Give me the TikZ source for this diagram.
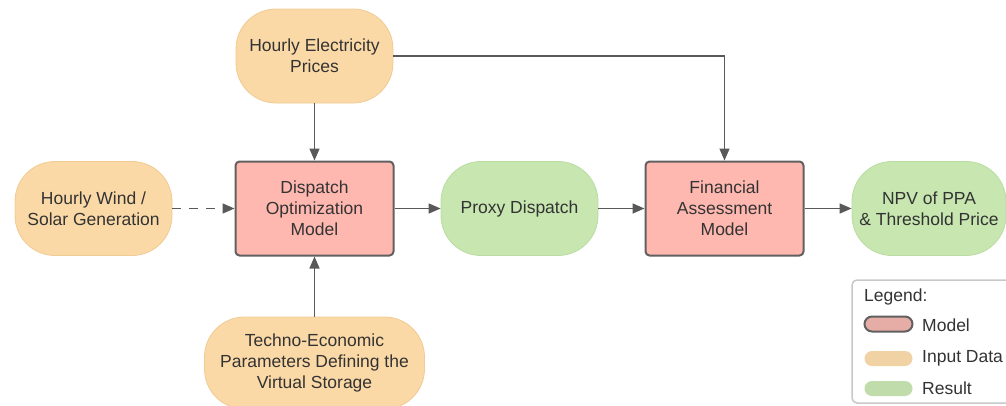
\documentclass[tikz,border=0pt]{standalone}
\usepackage{fontspec}
\setmainfont{Liberation Sans}
\usepackage{tikz}
\usetikzlibrary{arrows.meta}
\definecolor{InputFill}{HTML}{FBD9A7}
\definecolor{InputLine}{HTML}{F0CB93}
\definecolor{ModelFill}{HTML}{FFB8B0}
\definecolor{ModelLine}{HTML}{606060}
\definecolor{ResultFill}{HTML}{C7E6B0}
\definecolor{ResultLine}{HTML}{BADCA3}
\definecolor{ArrowGray}{HTML}{595959}
\definecolor{TextGray}{HTML}{333333}
\definecolor{LegendLine}{HTML}{C8C8C8}
\tikzset{data shape/.style={draw=InputLine, fill=InputFill, line width=0.8pt, rounded corners=40pt, inner sep=0pt, minimum height=94pt, minimum width=157pt, align=center, text=TextGray}}
\tikzset{model box/.style={draw=ModelLine, fill=ModelFill, line width=2pt, rounded corners=4pt, inner sep=0pt, minimum height=94pt, minimum width=158pt, align=center, text=TextGray}}
\tikzset{result shape/.style={draw=ResultLine, fill=ResultFill, line width=0.8pt, rounded corners=40pt, inner sep=0pt, minimum height=94pt, minimum width=157pt, align=center, text=TextGray}}
\tikzset{flow arrow/.style={draw=ArrowGray, line width=1.5pt, -{Triangle[length=12pt,width=10pt]}}}
\tikzset{legend swatch/.style={inner sep=0pt, minimum height=15pt, minimum width=48pt, rounded corners=7.5pt}}

\begin{document}
\begin{tikzpicture}[x=1pt, y=-1pt]
\fontsize{17.5}{21}\selectfont
\useasboundingbox (0,0) rectangle (1006,405);

\node[data shape] (prices) at (314.5,56) {Hourly Electricity\\Prices};
\node[data shape] (wind) at (93.5,208.5) {Hourly Wind /\\Solar Generation};
\node[data shape, minimum width=220pt, minimum height=92pt] (techno) at (314.5,363) {Techno-Economic\\Parameters Defining the\\Virtual Storage};

\node[model box] (dispatch) at (314.5,208.5) {Dispatch\\Optimization\\Model};
\node[result shape] (proxy) at (519.5,208.5) {Proxy Dispatch};
\node[model box] (finance) at (724.5,208.5) {Financial\\Assessment\\Model};
\node[result shape, minimum width=154pt] (npv) at (929,208.5) {NPV of PPA\\\& Threshold Price};

\draw[flow arrow] (prices) -- (dispatch);
\draw[flow arrow] (prices.east) -| (finance.north);
\draw[flow arrow, dash pattern=on 9pt off 8pt] (wind) -- (dispatch);
\draw[flow arrow] (techno) -- (dispatch);
\draw[flow arrow] (dispatch) -- (proxy);
\draw[flow arrow] (proxy) -- (finance);
\draw[flow arrow] (finance) -- (npv);

% legend
\draw[LegendLine, line width=1.5pt, rounded corners=5pt, fill=white] (852,280) rectangle (1012,403);
\node[anchor=west, text=TextGray, inner sep=0pt] (legtitle) at (864,297) {Legend:};
\node[legend swatch, draw=ModelLine, line width=2pt, fill=ModelFill!80!gray] (legmodel) at (888.5,324) {};
\node[legend swatch, fill=InputFill!92!gray] (leginput) at (888.5,358.5) {};
\node[legend swatch, fill=ResultFill!90!gray] (legresult) at (888.5,388.5) {};
\node[anchor=west, text=TextGray, inner sep=0pt] (legmodeltext) at (922,325) {Model};
\node[anchor=west, text=TextGray, inner sep=0pt] (leginputtext) at (922,358.5) {Input Data};
\node[anchor=west, text=TextGray, inner sep=0pt] (legresulttext) at (922,388.5) {Result};

\end{tikzpicture}
\end{document}
